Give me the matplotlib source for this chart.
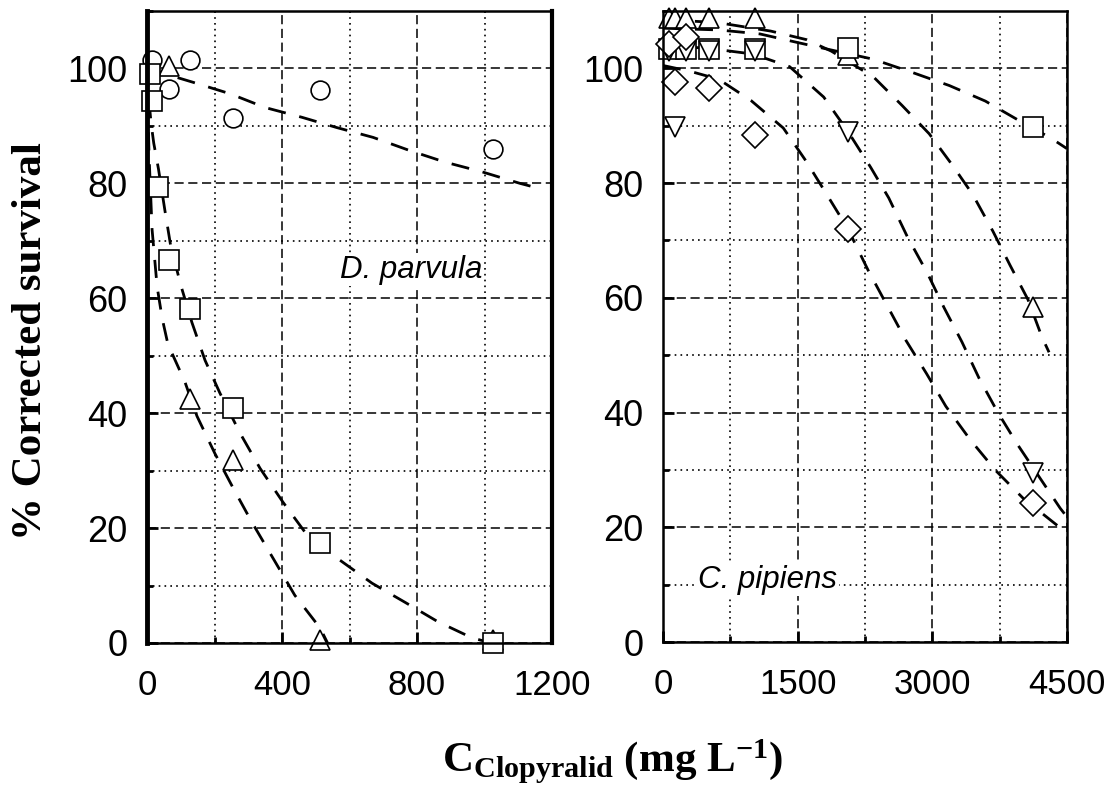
import matplotlib
matplotlib.use('Agg')
import matplotlib.pyplot as plt
from matplotlib.ticker import MultipleLocator

plt.rcParams['font.family'] = 'Liberation Sans'
plt.rcParams['mathtext.fontset'] = 'custom'
plt.rcParams['mathtext.rm'] = 'Liberation Serif:bold'
plt.rcParams['mathtext.bf'] = 'Liberation Serif:bold'
plt.rcParams['mathtext.it'] = 'Liberation Serif:bold'

# --- D. parvula (left panel) ---
dp_circle_x = [16, 64, 128, 256, 512, 1024]
dp_circle_y = [101.5, 96.5, 101.4, 91.3, 96.2, 86]
dp_tri_x = [64, 128, 256, 512, 1024]
dp_tri_y = [100.5, 42.5, 31.8, 0.5, 0.5]
dp_sq_x = [8, 16, 32, 64, 128, 256, 512, 1024]
dp_sq_y = [99.1, 94.3, 79.4, 66.6, 58.2, 40.9, 17.4, 0]

# fitted curves
dp_fit_circle_x = [0, 136, 246, 350, 459, 563, 670, 779, 883, 993, 1105, 1170]
dp_fit_circle_y = [100, 97.6, 95.6, 93.2, 91.5, 89.7, 88, 85.7, 83.7, 82, 80, 79]
dp_fit_sq_x = [0, 5, 12, 20, 34, 53, 70, 100, 133, 172, 216, 276, 335, 403, 468,
               572, 667, 764, 862, 963, 1020]
dp_fit_sq_y = [100, 95, 90.5, 87, 82.5, 75.3, 69.2, 62.3, 55.8, 49.2, 43.5, 36.5,
               30.4, 24.5, 19.3, 14.4, 10.4, 7.1, 3.7, 0.9, 0]
dp_fit_tri_x = [0, 6, 15, 30, 45, 62, 112, 148, 201, 255, 311, 373, 438, 513, 535]
dp_fit_tri_y = [100, 85, 72, 62, 56.5, 52, 45.5, 39.5, 33, 27, 21, 14.8, 8.3, 2.6, 0]

# --- C. pipiens (right panel) ---
cp_x = [64, 129, 257, 515, 1030, 2060, 4120]
cp_tri_y = [108.7, 108.7, 108.7, 108.7, 108.7, 102.3, 58.4]
cp_dtri_y = [103, 89.7, 103, 103, 103, 88.9, 29.4]
cp_dia_y = [104.3, 97.6, 105.4, 96.5, 88.3, 72, 24.2]
cp_sq_x = [64, 257, 515, 1030, 2060, 4120]
cp_sq_y = [103.3, 103.3, 103.3, 103.3, 103.5, 89.7]

cp_fit_sq_x = [0, 620, 1080, 1500, 1875, 2340, 2775, 3190, 3590, 3955, 4325, 4500]
cp_fit_sq_y = [107, 106.7, 106, 104.5, 103.2, 101.6, 99.3, 97, 94.3, 91, 87.8, 86]
cp_fit_tri_x = [0, 600, 1200, 1600, 1875, 2345, 2665, 2965, 3220, 3450, 3675, 3865,
                4065, 4220, 4300]
cp_fit_tri_y = [108.5, 108, 106.5, 105, 103, 98.5, 93.5, 88.6, 83.2, 78, 71.6, 65.7,
                59.7, 53.2, 50.5]
cp_fit_dtri_x = [0, 500, 1000, 1410, 1790, 2060, 2315, 2515, 2720, 2945, 3130, 3330,
                 3520, 3730, 3950, 4215, 4425, 4500]
cp_fit_dtri_y = [104, 103.5, 102.5, 100.3, 95, 89, 82.7, 77.4, 70.7, 64.3, 58.3, 52.3,
                 46, 40, 34.4, 28.2, 23.3, 21.8]
cp_fit_dia_x = [0, 300, 620, 980, 1340, 1595, 1825, 2060, 2285, 2495, 2705, 2935, 3150,
                3420, 3705, 4015, 4385, 4500]
cp_fit_dia_y = [100.5, 99.5, 98.1, 94.4, 89.6, 83.8, 78, 72, 64.8, 58.7, 52.6, 46.8,
                41.1, 35.3, 29.9, 25, 20.4, 19]

fit_style = dict(color='k', lw=2.0, dashes=(6.5, 5), zorder=3)
mk = dict(ls='none', mfc='white', mec='k', mew=1.2, ms=14, zorder=5, clip_on=False)
label_box = dict(facecolor='white', edgecolor='none', pad=1)

fig = plt.figure(figsize=(11.18, 7.94), dpi=100)
ax1 = fig.add_axes([147 / 1118, 1 - 643 / 794, 405 / 1118, 632 / 794])
ax2 = fig.add_axes([663 / 1118, 1 - 642 / 794, 404 / 1118, 631 / 794])

ax1.plot(dp_fit_circle_x, dp_fit_circle_y, **fit_style)
ax1.plot(dp_fit_sq_x, dp_fit_sq_y, **fit_style)
ax1.plot(dp_fit_tri_x, dp_fit_tri_y, **fit_style)
ax1.plot(dp_circle_x, dp_circle_y, marker='o', **{**mk, 'ms': 13.5})
ax1.plot(dp_tri_x, dp_tri_y, marker='^', **mk)
ax1.plot(dp_sq_x, dp_sq_y, marker='s', **mk)
ax1.text(782, 65, 'D. parvula', style='italic', fontsize=22.5, ha='center', va='center',
         bbox=label_box, zorder=4)

ax2.plot(cp_fit_sq_x, cp_fit_sq_y, **fit_style)
ax2.plot(cp_fit_tri_x, cp_fit_tri_y, **fit_style)
ax2.plot(cp_fit_dtri_x, cp_fit_dtri_y, **fit_style)
ax2.plot(cp_fit_dia_x, cp_fit_dia_y, **fit_style)
ax2.plot(cp_x, cp_tri_y, marker='^', **mk)
ax2.plot(cp_sq_x, cp_sq_y, marker='s', **mk)
ax2.plot(cp_x, cp_dtri_y, marker='v', **mk)
ax2.plot(cp_x, cp_dia_y, marker='D', **{**mk, 'ms': 13})
ax2.text(1169, 10.8, 'C. pipiens', style='italic', fontsize=22.5, ha='center', va='center',
         bbox=label_box, zorder=4)

ax1.set_xlim(0, 1200)
ax1.xaxis.set_major_locator(MultipleLocator(400))
ax1.xaxis.set_minor_locator(MultipleLocator(200))
ax2.set_xlim(0, 4500)
ax2.xaxis.set_major_locator(MultipleLocator(1500))
ax2.xaxis.set_minor_locator(MultipleLocator(750))

for ax in (ax1, ax2):
    ax.set_ylim(0, 110)
    ax.set_yticks([0, 20, 40, 60, 80, 100])
    ax.yaxis.set_minor_locator(MultipleLocator(10))
    ax.grid(which='major', color='k', lw=1.1, ls=(0, (6, 3)))
    ax.grid(which='minor', color='k', lw=1.2, ls=(0, (1, 2.5)))
    ax.set_axisbelow(True)
    ax.tick_params(which='both', direction='in', width=2, color='k')
    ax.tick_params(which='major', length=8)
    ax.tick_params(which='minor', length=4)
    ax.tick_params(axis='y', labelsize=26, pad=14)
    ax.tick_params(axis='x', labelsize=25, pad=19)
    for s in ax.spines.values():
        s.set_linewidth(1.8)
        s.set_zorder(6)

ax1.spines['left'].set_linewidth(3.5)
ax1.spines['right'].set_linewidth(3)

fig.text(0.028, 0.5705, '% Corrected survival', rotation=90, ha='center', va='center',
         family='Liberation Serif', weight='bold', fontsize=31)
fig.text(0.548, 1 - 762 / 794, r'$\mathbf{C}_{\mathbf{Clopyralid}}$ (mg L$^{\mathbf{-1}}$)',
         ha='center', va='center', family='Liberation Serif', weight='bold', fontsize=31)

fig.savefig('out.png', dpi=100)
